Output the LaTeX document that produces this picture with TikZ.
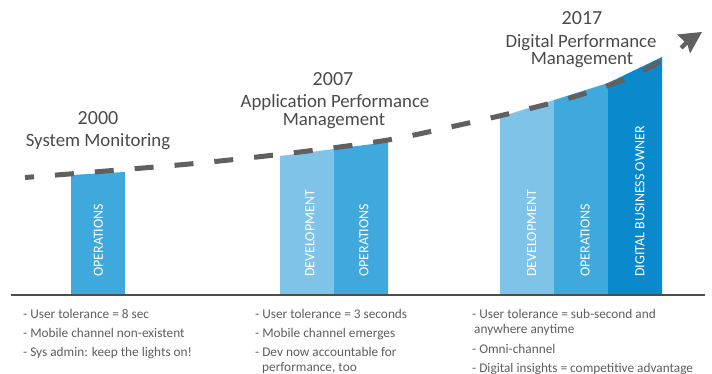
\documentclass[tikz,border=0pt]{standalone}
\usepackage{fontspec}
\setmainfont{Carlito}
\definecolor{devblue}{HTML}{7FC4E8}
\definecolor{opsblue}{HTML}{3FA9DD}
\definecolor{dboblue}{HTML}{0A8ACD}
\definecolor{titlegray}{HTML}{4A4A4A}
\definecolor{notegray}{HTML}{5E5E5E}
\definecolor{axisgray}{HTML}{4D4D4D}
\definecolor{dashgray}{HTML}{606060}
\tikzset{
  barlabel/.style={rotate=90,anchor=west,inner sep=0pt,text=white,font=\fontsize{14}{15}\selectfont},
  titletext/.style={anchor=base,inner sep=0pt,text=titlegray,font=\fontsize{18.8}{20}\selectfont},
  yeartext/.style={anchor=base,inner sep=0pt,text=titlegray,font=\fontsize{20}{21}\selectfont},
  notetext/.style={anchor=base west,inner sep=0pt,text=notegray,font=\fontsize{13.3}{15}\selectfont},
}
\begin{document}
\begin{tikzpicture}[x=1pt,y=-1pt]
\useasboundingbox (0,0) rectangle (712,374);
% bars
\fill[opsblue] (71,295) -- (71,175) -- (125,172) -- (125,295) -- cycle;
\fill[devblue] (280,295) -- (280,156) -- (334,149) -- (334,295) -- cycle;
\fill[opsblue] (334,295) -- (334,149) -- (388,142) -- (388,295) -- cycle;
\fill[devblue] (500,295) -- (500,117) -- (554,100) -- (554,295) -- cycle;
\fill[opsblue] (554,295) -- (554,100) -- (608,83) -- (608,295) -- cycle;
\fill[dboblue] (608,295) -- (608,83) -- (662,57) -- (662,295) -- cycle;
% bar labels
\node[barlabel] (o1) at (98.5,277) {OPERATIONS};
\node[barlabel] (d2) at (310,277) {DEVELOPMENT};
\node[barlabel] (o2) at (364,277) {OPERATIONS};
\node[barlabel] (d3) at (531.5,277) {DEVELOPMENT};
\node[barlabel] (o3) at (585,277) {OPERATIONS};
\node[barlabel] (b3) at (640,277) {DIGITAL BUSINESS OWNER};
% axis
\draw[axisgray,line width=1.6pt] (11,295) -- (705,295);
% dashed trend
\draw[dashgray,line width=5pt,dash pattern=on 19pt off 21pt,dash phase=10pt]
  plot[smooth,tension=0.55] coordinates {(25,177.5) (100,171.5) (200,163) (300,152) (388,140) (455,126) (520,111) (580,95) (630,77) (668,57)};
\fill[dashgray] (702,32) -- (677,34.5) -- (684.5,41.5) -- (679.5,46.5) -- (682.5,49.5) -- (687.5,44.5) -- (690,53.5) -- cycle;
% titles
\node[yeartext] (y1) at (98,125) {2000};
\node[titletext] (t1) at (98,147) {System Monitoring};
\node[yeartext] (y2) at (333,86) {2007};
\node[titletext] (t2a) at (335,108) {Application Performance};
\node[titletext] (t2b) at (334,126) {Management};
\node[yeartext] (y3) at (582,25) {2017};
\node[titletext] (t3a) at (581,48) {Digital Performance};
\node[titletext] (t3b) at (582,65) {Management};
% notes
\node[notetext] (n11) at (23,318) {- User tolerance = 8 sec};
\node[notetext] (n12) at (23,337) {- Mobile channel non-existent};
\node[notetext] (n13) at (23,356) {- Sys admin: keep the lights on!};
\node[notetext] (n21) at (255,318) {- User tolerance = 3 seconds};
\node[notetext] (n22) at (255,337) {- Mobile channel emerges};
\node[notetext] (n23) at (255,356) {- Dev now accountable for};
\node[notetext] (n23b) at (262,371) {performance, too};
\node[notetext] (n31) at (472,318) {- User tolerance = sub-second and};
\node[notetext] (n31b) at (474,333) {anywhere anytime};
\node[notetext] (n32) at (472,353) {- Omni-channel};
\node[notetext] (n33) at (472,372) {- Digital insights = competitive advantage};
\end{tikzpicture}
\end{document}
